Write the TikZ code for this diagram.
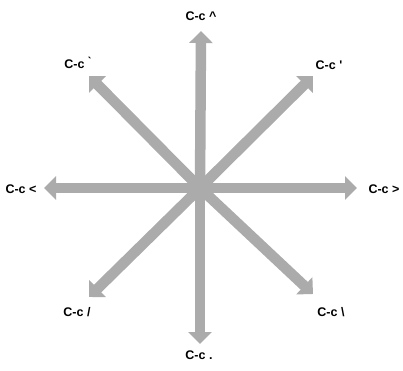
\documentclass[tikz,border=0pt]{standalone}
\usepackage{fontspec}
\setmainfont{Liberation Sans}
\usetikzlibrary{arrows.meta}
\definecolor{arrgray}{HTML}{ABABAB}
\begin{document}
\begin{tikzpicture}[x=1pt,y=-1pt,
  arr/.style={draw=arrgray,line width=10.5pt,-{Triangle[width=23pt,length=12pt]}},
  lbl/.style={font=\bfseries\fontsize{12.5}{13}\selectfont,inner sep=0pt}]
\useasboundingbox (0,0) rectangle (403,370);
\coordinate (c) at (200,188);
\coordinate (tN) at (201,31);
\coordinate (tS) at (200,344);
\coordinate (tW) at (44,188);
\coordinate (tE) at (357,188);
\coordinate (tNW) at (89,76);
\coordinate (tNE) at (313,76);
\coordinate (tSW) at (89,297);
\coordinate (tSE) at (313,294);
\foreach \t in {tN,tS,tW,tE,tNW,tNE,tSW,tSE}{\draw[arr] (c) -- (\t);}
\node[lbl] (lN) at (201,16) {C-c \^{}};
\node[lbl] (lNW) at (78,63) {C-c \`{}};
\node[lbl] (lNE) at (329,65) {C-c \textquotesingle};
\node[lbl] (lW) at (21,189) {C-c <};
\node[lbl] (lE) at (384,189) {C-c >};
\node[lbl] (lSW) at (77,312) {C-c /};
\node[lbl] (lSE) at (331,312) {C-c \textbackslash};
\node[lbl] (lS) at (199,355) {C-c .};
\end{tikzpicture}
\end{document}
